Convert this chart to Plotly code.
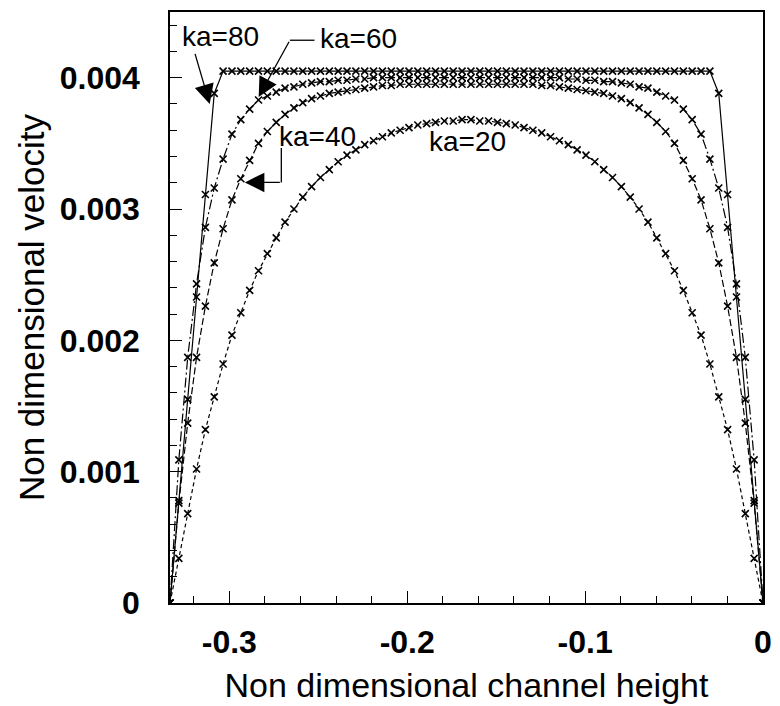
import numpy as np
import plotly.graph_objects as go

# Channel-height coordinate: wall at -1/3, other wall at 0, 68 evenly spaced nodes
height = np.linspace(-1.0 / 3.0, 0.0, 68)

vel_ka80 = [
    0, 0.00078, 0.00155, 0.00233, 0.00311, 0.00388,
    0.00405, 0.00405, 0.00405, 0.00405, 0.00405, 0.00405, 0.00405, 0.00405,
    0.00405, 0.00405, 0.00405, 0.00405, 0.00405, 0.00405, 0.00405, 0.00405,
    0.00405, 0.00405, 0.00405, 0.00405, 0.00405, 0.00405, 0.00405, 0.00405,
    0.00405, 0.00405, 0.00405, 0.00405, 0.00405, 0.00405, 0.00405, 0.00405,
    0.00405, 0.00405, 0.00405, 0.00405, 0.00405, 0.00405, 0.00405, 0.00405,
    0.00405, 0.00405, 0.00405, 0.00405, 0.00405, 0.00405, 0.00405, 0.00405,
    0.00405, 0.00405, 0.00405, 0.00405, 0.00405, 0.00405, 0.00405, 0.00405,
    0.00388, 0.00311, 0.00233, 0.00155, 0.00078, 0,
]

vel_ka60 = [
    0, 0.00109, 0.00187, 0.00243, 0.00286, 0.00316, 0.00338, 0.00357,
    0.00368, 0.00376, 0.00383, 0.00386, 0.00389, 0.00392, 0.00393, 0.00395,
    0.00396, 0.00397, 0.00397, 0.00398, 0.00398, 0.00399, 0.00399, 0.004,
    0.004, 0.004, 0.004, 0.004, 0.004, 0.004, 0.004, 0.004, 0.004, 0.004,
    0.004, 0.004, 0.004, 0.004, 0.004, 0.004, 0.004, 0.004, 0.004, 0.004,
    0.004, 0.00399, 0.00399, 0.00398, 0.00398, 0.00397, 0.00397, 0.00396,
    0.00395, 0.00393, 0.00392, 0.00389, 0.00386, 0.00383, 0.00376, 0.00368,
    0.00357, 0.00338, 0.00316, 0.00286, 0.00243, 0.00187, 0.00109, 0,
]

vel_ka40 = [
    0, 0.00076, 0.00137, 0.00187, 0.00226, 0.00259, 0.00285, 0.00307,
    0.00323, 0.00337, 0.0035, 0.00359, 0.00366, 0.00372, 0.00377, 0.00381,
    0.00384, 0.00386, 0.00388, 0.00389, 0.0039, 0.00391, 0.00392, 0.00393,
    0.00394, 0.00394, 0.00395, 0.00395, 0.00395, 0.00395, 0.00395, 0.00395,
    0.00395, 0.00395, 0.00395, 0.00395, 0.00395, 0.00395, 0.00395, 0.00395,
    0.00395, 0.00395, 0.00394, 0.00394, 0.00393, 0.00392, 0.00391, 0.0039,
    0.00389, 0.00388, 0.00386, 0.00384, 0.00381, 0.00377, 0.00372, 0.00366,
    0.00359, 0.0035, 0.00337, 0.00323, 0.00307, 0.00285, 0.00259, 0.00226,
    0.00187, 0.00137, 0.00076, 0,
]

vel_ka20 = [
    0, 0.00034, 0.00068, 0.00102, 0.00132, 0.00157, 0.00182, 0.00204,
    0.00221, 0.00238, 0.00253, 0.00266, 0.00278, 0.0029, 0.003, 0.00309,
    0.00317, 0.00324, 0.0033, 0.00336, 0.00341, 0.00345, 0.00349, 0.00352,
    0.00355, 0.00358, 0.0036, 0.00362, 0.00364, 0.00365, 0.00366, 0.00367,
    0.00367, 0.00368, 0.00368, 0.00367, 0.00367, 0.00366, 0.00365, 0.00364,
    0.00362, 0.0036, 0.00358, 0.00355, 0.00352, 0.00349, 0.00345, 0.00341,
    0.00336, 0.0033, 0.00324, 0.00317, 0.00309, 0.003, 0.0029, 0.00278,
    0.00266, 0.00253, 0.00238, 0.00221, 0.00204, 0.00182, 0.00157, 0.00132,
    0.00102, 0.00068, 0.00034, 0,
]

series_names = ["ka=80", "ka=60", "ka=40", "ka=20"]
x_tick_vals = [-0.3, -0.2, -0.1, 0.0]
x_tick_text = ["-0.3", "-0.2", "-0.1", "0"]
y_tick_vals = [0.0, 0.001, 0.002, 0.003, 0.004]
y_tick_text = ["0", "0.001", "0.002", "0.003", "0.004"]

FONT = "Liberation Sans, Arial, sans-serif"
INK = "black"

dash_styles = ["solid", "10px,3px,2px,3px", "7px,3px", "4px,3px"]
curves = [vel_ka80, vel_ka60, vel_ka40, vel_ka20]

fig = go.Figure()
for name, vals, dash in zip(series_names, curves, dash_styles):
    fig.add_trace(go.Scatter(
        x=height, y=vals, name=name, mode="lines+markers",
        line=dict(color=INK, width=1.2, dash=dash),
        marker=dict(symbol="x-thin", size=7, color=INK,
                    line=dict(color=INK, width=1.6)),
        showlegend=False,
    ))

x_minor = np.round(np.arange(-0.32, 0.0001, 0.02), 4)
y_minor = np.round(np.arange(0.0, 0.00451, 0.0002), 6)

fig.update_layout(
    width=780, height=706,
    margin=dict(l=170, r=8, t=12, b=94),
    paper_bgcolor="white", plot_bgcolor="white",
    font=dict(family=FONT, color=INK),
    xaxis=dict(
        range=[-1.0 / 3.0, 0.0], showgrid=False, zeroline=False,
        showline=True, linecolor=INK, linewidth=1.5, mirror=True,
        ticks="inside", ticklen=12, tickwidth=1.3, tickcolor=INK,
        tickmode="array", tickvals=x_tick_vals, ticktext=x_tick_text,
        tickfont=dict(family=FONT, size=32, color=INK, weight="bold"),
        ticklabelstandoff=10,
        minor=dict(ticks="inside", ticklen=7, tickwidth=1.1, tickcolor=INK,
                   tickvals=x_minor, showgrid=False),
        title=dict(text="Non dimensional channel height",
                   font=dict(family=FONT, size=34, color=INK), standoff=14),
    ),
    yaxis=dict(
        range=[0.0, 0.0045], showgrid=False, zeroline=False,
        showline=True, linecolor=INK, linewidth=1.5, mirror=True,
        ticks="inside", ticklen=12, tickwidth=1.3, tickcolor=INK,
        tickmode="array", tickvals=y_tick_vals, ticktext=y_tick_text,
        tickfont=dict(family=FONT, size=32, color=INK, weight="bold"),
        ticklabelstandoff=22,
        minor=dict(ticks="inside", ticklen=7, tickwidth=1.1, tickcolor=INK,
                   tickvals=y_minor, showgrid=False),
        title=dict(text="Non dimensional velocity",
                   font=dict(family=FONT, size=35, color=INK), standoff=5),
    ),
)

label_font = dict(family=FONT, size=28, color=INK)

# Curve labels
fig.add_annotation(x=-0.3051, y=0.004313, text="ka=80", showarrow=False, font=label_font)
fig.add_annotation(x=-0.2273, y=0.004301, text="ka=60", showarrow=False, font=label_font)
fig.add_annotation(x=-0.2503, y=0.003555, text="ka=40", showarrow=False, font=label_font)
fig.add_annotation(x=-0.1661, y=0.0035175, text="ka=20", showarrow=False, font=label_font)

arrow_style = dict(showarrow=True, arrowhead=2, arrowsize=3, arrowwidth=1.3,
                   arrowcolor=INK, text="", axref="x", ayref="y")

# ka=80 pointer
fig.add_annotation(x=-0.3110, y=0.00380, ax=-0.3195, ay=0.004193, **arrow_style)
# ka=60 pointer: horizontal leader then diagonal arrow
fig.add_shape(type="line", x0=-0.25211, y0=0.004285, x1=-0.26595, y1=0.004285,
              line=dict(color=INK, width=1.3))
fig.add_annotation(x=-0.2835, y=0.003853, ax=-0.26595, ay=0.004285, **arrow_style)
# ka=40 pointer: vertical leader then horizontal arrow
fig.add_shape(type="line", x0=-0.27076, y0=0.003465, x1=-0.27076, y1=0.0032025,
              line=dict(color=INK, width=1.3))
fig.add_annotation(x=-0.29125, y=0.0032025, ax=-0.27076, ay=0.0032025, **arrow_style)

fig.write_html("out.html")
